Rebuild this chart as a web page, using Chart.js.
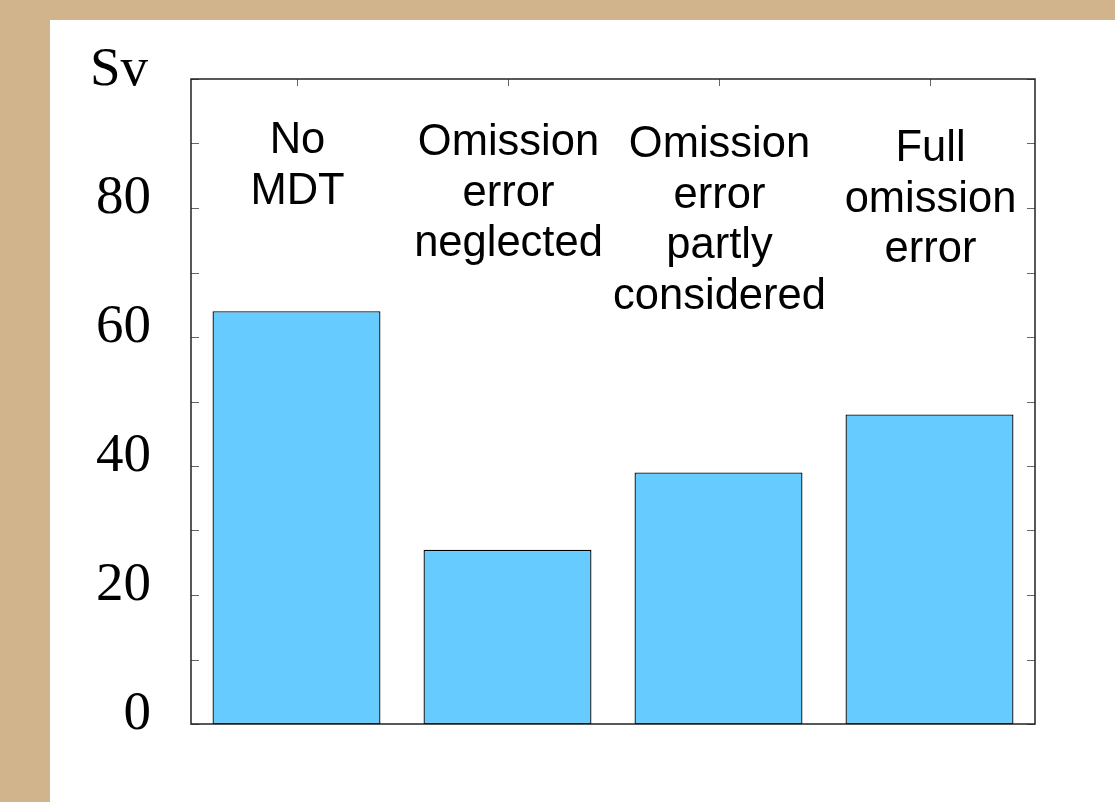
<!DOCTYPE html>
<html>
<head>
<meta charset="utf-8">
<script src="https://cdn.jsdelivr.net/npm/chart.js@4.4.1/dist/chart.umd.min.js"></script>
<style>
  html, body { margin: 0; padding: 0; background: #D2B48C; width: 1115px; height: 802px; overflow: hidden; }
  #panel { position: absolute; left: 50px; top: 20px; width: 1065px; height: 782px; background: #ffffff; }
  canvas { display: block; }
</style>
</head>
<body>
<div id="panel"><canvas id="c" width="1065" height="782"></canvas></div>
<script>
// Transport estimates per method (Sv)
const categories = [
  ['No', 'MDT'],
  ['Omission', 'error', 'neglected'],
  ['Omission', 'error', 'partly', 'considered'],
  ['Full', 'omission', 'error']
];
const transport = [64, 27, 39, 48];
const yTickLabels = [0, 20, 40, 60, 80];
const unitLabel = 'Sv';

// Baseline of the first line of each in-plot label, below the frame top
const labelTopOffsets = [74, 76, 78, 82];

const framePlugin = {
  id: 'frame',
  afterDatasetsDraw(chart) {
    const { ctx, chartArea: a, scales } = chart;
    const y = scales.y, x = scales.x;
    ctx.save();
    // inside tick marks on left and right
    ctx.strokeStyle = '#666';
    ctx.lineWidth = 1;
    y.ticks.forEach(t => {
      const py = Math.round(y.getPixelForValue(t.value)) + 0.5;
      ctx.beginPath();
      ctx.moveTo(a.left, py); ctx.lineTo(a.left + 8, py);
      ctx.moveTo(a.right, py); ctx.lineTo(a.right - 8, py);
      ctx.stroke();
    });
    // tick marks on top edge at category centres
    categories.forEach((_, i) => {
      const px = Math.round(x.getPixelForValue(i)) + 0.5;
      ctx.beginPath();
      ctx.moveTo(px, a.top); ctx.lineTo(px, a.top + 7);
      ctx.stroke();
    });
    // frame
    ctx.strokeStyle = '#222';
    ctx.lineWidth = 1.5;
    ctx.strokeRect(a.left, a.top, a.right - a.left, a.bottom - a.top);

    // category names inside the plot
    ctx.fillStyle = '#000';
    ctx.font = '43.5px "Liberation Sans", Arial, sans-serif';
    ctx.textAlign = 'center';
    ctx.textBaseline = 'alphabetic';
    categories.forEach((lines, i) => {
      const cx = x.getPixelForValue(i) + 1;
      lines.forEach((ln, j) => {
        ctx.fillText(ln, cx, a.top + labelTopOffsets[i] + j * 50.5);
      });
    });

    // unit label above the value axis
    ctx.font = '55px "Liberation Serif", "Times New Roman", serif';
    ctx.textAlign = 'left';
    ctx.fillText(unitLabel, 40, 65);
    ctx.restore();
  }
};

new Chart(document.getElementById('c'), {
  type: 'bar',
  data: {
    labels: categories.map(c => c.join(' ')),
    datasets: [{
      data: transport,
      backgroundColor: '#66CCFF',
      borderColor: '#000000',
      borderWidth: 1.3,
      borderSkipped: false,
      categoryPercentage: 1.0,
      barPercentage: 0.796
    }]
  },
  options: {
    responsive: false,
    animation: false,
    devicePixelRatio: 1,
    layout: { padding: { top: 59, right: 80, bottom: 78, left: 0 } },
    plugins: { legend: { display: false }, tooltip: { enabled: false } },
    scales: {
      x: {
        display: false
      },
      y: {
        min: 0,
        max: 100,
        border: { display: false },
        grid: { display: false, drawTicks: false },
        afterFit(scale) {
          scale.width = 141;
          scale.paddingTop = 0;
          scale.paddingBottom = 0;
        },
        ticks: {
          stepSize: 10,
          autoSkip: false,
          padding: 40,
          labelOffset: -9,
          color: '#000',
          font: { family: '"Liberation Serif", "Times New Roman", serif', size: 55 },
          callback(v) { return yTickLabels.includes(v) ? String(v) : ''; }
        }
      }
    }
  },
  plugins: [framePlugin]
});
</script>
</body>
</html>
